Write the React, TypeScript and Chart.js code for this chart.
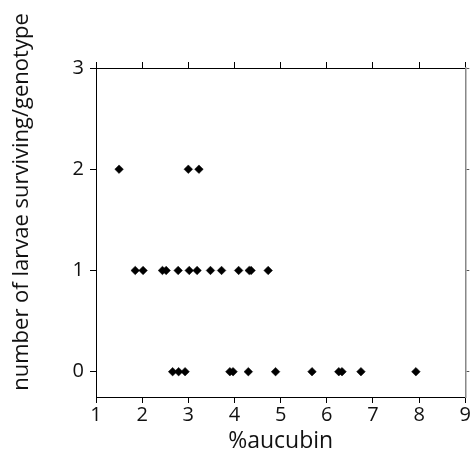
import React, { useEffect, useRef } from "react";
import { Chart, registerables } from "chart.js";

Chart.register(...registerables);

const xTicks = [1, 2, 3, 4, 5, 6, 7, 8, 9];
const yTicks = [0, 1, 2, 3];

const aucubinTwo = [1.5, 3.0, 3.23];
const aucubinOne = [1.85, 2.02, 2.44, 2.52, 2.78, 3.02, 3.19, 3.48, 3.72, 4.09, 4.32, 4.36, 4.73];
const aucubinZero = [2.66, 2.79, 2.93, 3.9, 3.97, 4.3, 4.89, 5.68, 6.26, 6.33, 6.74, 7.93];

const xTitle = "%aucubin";
const yTitle = "number of larvae surviving/genotype";

const FONT = "'Open Sans', 'Liberation Sans', sans-serif";

function pts(xs: number[], y: number) {
  return xs.map((x) => ({ x, y }));
}

const titlePlugin = {
  id: "titles",
  afterDraw(chart: any) {
    const ctx = chart.ctx;
    const area = chart.chartArea;
    ctx.save();
    ctx.fillStyle = "#111";
    ctx.font = `23px ${FONT}`;
    ctx.textAlign = "center";
    ctx.textBaseline = "middle";
    ctx.fillText(xTitle, (area.left + area.right) / 2, 441);
    ctx.font = `22px ${FONT}`;
    ctx.translate(22, 202);
    ctx.rotate(-Math.PI / 2);
    ctx.fillText(yTitle, 0, 0);
    ctx.restore();
  },
};

export default function App() {
  const ref = useRef<HTMLCanvasElement | null>(null);
  useEffect(() => {
    if (!ref.current) return;
    const ds = (xs: number[], y: number) => ({
      data: pts(xs, y),
      pointStyle: "rectRot" as const,
      pointRadius: 4.3,
      pointBackgroundColor: "#000",
      pointBorderColor: "#000",
      pointBorderWidth: 0.5,
      showLine: false,
    });
    const setTicks = (vals: number[]) => (scale: any) => {
      scale.ticks = vals.map((v) => ({ value: v }));
    };
    const chart = new Chart(ref.current, {
      type: "scatter",
      data: {
        datasets: [ds(aucubinTwo, 2), ds(aucubinOne, 1), ds(aucubinZero, 0)],
      },
      plugins: [titlePlugin],
      options: {
        animation: false,
        responsive: false,
        maintainAspectRatio: false,
        layout: { padding: { top: 60, right: 0, left: 0, bottom: 0 } },
        plugins: { legend: { display: false }, tooltip: { enabled: false } },
        scales: {
          x: {
            type: "linear",
            position: "bottom",
            min: 1,
            max: 9,
            afterBuildTicks: setTicks(xTicks),
            afterFit: (s: any) => {
              s.height = 66;
            },
            grid: { drawOnChartArea: false, tickLength: 6, color: "#000" },
            border: { color: "#000", width: 1 },
            ticks: { color: "#111", font: { family: FONT, size: 20 }, padding: 0, maxRotation: 0 },
          },
          x2: {
            type: "linear",
            position: "top",
            min: 1,
            max: 9,
            afterBuildTicks: setTicks(xTicks),
            afterFit: (s: any) => {
              s.height = 8;
            },
            grid: { drawOnChartArea: false, tickLength: 6, color: "#000" },
            border: { color: "#000", width: 1 },
            ticks: { display: false },
          },
          y: {
            type: "linear",
            position: "left",
            min: -0.25,
            max: 3,
            afterBuildTicks: setTicks(yTicks),
            afterFit: (s: any) => {
              s.width = 96;
            },
            grid: { drawOnChartArea: false, tickLength: 6, color: "#000" },
            border: { color: "#000", width: 1 },
            ticks: { color: "#111", font: { family: FONT, size: 20 }, padding: 6 },
          },
          y2: {
            type: "linear",
            position: "right",
            min: -0.25,
            max: 3,
            afterBuildTicks: setTicks(yTicks),
            afterFit: (s: any) => {
              s.width = 5;
            },
            grid: { drawOnChartArea: false, tickLength: 4, color: "#555" },
            border: { color: "#888", width: 1.5 },
            ticks: { display: false },
          },
        },
      },
    });
    return () => chart.destroy();
  }, []);
  return (
    <div style={{ position: "absolute", left: 0, top: 0, width: 471, height: 463, background: "#fff" }}>
      <canvas ref={ref} width={471} height={463} style={{ display: "block" }} />
    </div>
  );
}
